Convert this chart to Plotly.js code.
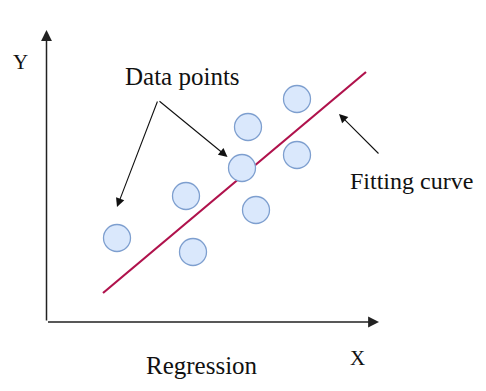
<!DOCTYPE html>
<html>
<head>
<meta charset="utf-8">
<script src="https://cdn.plot.ly/plotly-3.0.1.min.js"></script>
<style>html,body{margin:0;padding:0;background:#fff;}#chart{width:486px;height:391px;}</style>
</head>
<body>
<div id="chart"></div>
<script>
// Data points (diagram units; origin at the axis corner)
const pointX = [7.05, 13.95, 14.65, 19.55, 20.15, 20.95, 25.05, 25.05];
const pointY = [8.4, 12.6, 7.0, 15.4, 19.5, 11.2, 22.3, 16.7];
// Fitting curve end points
const fitX = [5.65, 31.95];
const fitY = [2.9, 25.0];
// Axis extents
const axisXEnd = 33.25;
const axisYEnd = 29.2;
// Labels
const labelX = "X";
const labelY = "Y";
const labelTitle = "Regression";
const labelPoints = "Data points";
const labelFit = "Fitting curve";

const serif = "Liberation Serif, Times New Roman, serif";

const traces = [
  {x: fitX, y: fitY, mode: "lines", type: "scatter",
   line: {color: "#b0124c", width: 2.2}, hoverinfo: "skip"},
  {x: pointX, y: pointY, mode: "markers", type: "scatter",
   marker: {size: 27, color: "#dae8fc", line: {color: "#7e9fcf", width: 1.3}}, hoverinfo: "skip"}
];

function arrow(x0, y0, x1, y1, color, width, head, size) {
  return {x: x1, y: y1, ax: x0, ay: y0, xref: "x", yref: "y", axref: "x", ayref: "y",
    text: "", showarrow: true, arrowhead: head, arrowsize: size, arrowwidth: width,
    arrowcolor: color, standoff: 0, startstandoff: 0};
}
function label(x, y, t, size) {
  return {x: x, y: y, xref: "x", yref: "y", text: t, showarrow: false,
    font: {family: serif, size: size, color: "#111"}, xanchor: "center", yanchor: "middle"};
}

const annotations = [
  arrow(0, 0, axisXEnd, 0, "#222", 1.5, 2, 1.45),
  arrow(0, 0, 0, axisYEnd, "#222", 1.5, 2, 1.45),
  arrow(11.15, 22.2, 7.05, 11.5, "#111", 1.1, 2, 1.6),
  arrow(11.15, 22.2, 18.1, 16.5, "#111", 1.1, 2, 1.6),
  arrow(33.35, 16.7, 29.25, 20.8, "#111", 1.1, 2, 1.6),
  label(13.6, 24.6, labelPoints, 25),
  label(36.5, 14.1, labelFit, 24),
  label(-2.6, 26.0, labelY, 21),
  label(31.05, -3.6, labelX, 21),
  label(15.55, -4.3, labelTitle, 25)
];

const layout = {
  width: 486, height: 391,
  margin: {l: 0, r: 0, t: 0, b: 0},
  paper_bgcolor: "#fff", plot_bgcolor: "#fff",
  showlegend: false,
  xaxis: {range: [-4.65, 43.95], visible: false, fixedrange: true},
  yaxis: {range: [-6.9, 32.2], visible: false, fixedrange: true},
  annotations: annotations
};

Plotly.newPlot("chart", traces, layout, {staticPlot: true, displayModeBar: false});
</script>
</body>
</html>
